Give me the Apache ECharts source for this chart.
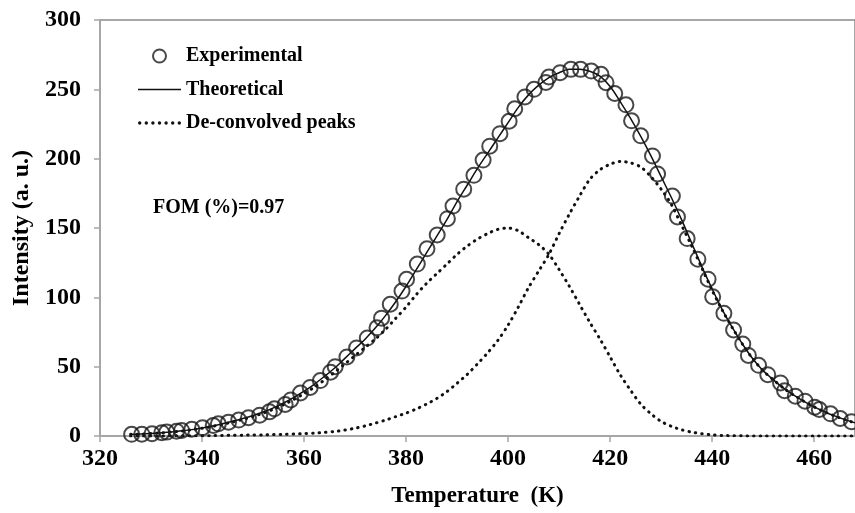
<!DOCTYPE html>
<html><head><meta charset="utf-8">
<script src="https://cdn.jsdelivr.net/npm/echarts@6/dist/echarts.min.js"></script>
<style>html,body{margin:0;padding:0;background:#fff}#c{width:855px;height:513px}</style>
</head><body><div id="c"></div>
<script>
// Experimental points (temperature K, intensity a.u.)
var expT = [326.2,328.2,330.2,332.1,333.1,335.0,336.0,338.0,340.1,342.2,343.2,345.2,347.2,349.1,351.3,353.2,354.2,356.3,357.4,359.3,361.2,363.2,365.2,366.1,368.4,370.3,372.4,374.3,375.2,376.9,379.2,380.1,382.2,384.1,386.1,388.1,389.2,391.3,393.3,395.1,396.4,398.4,400.2,401.3,403.3,405.1,407.4,408.0,410.2,412.3,414.2,416.3,418.2,419.2,420.9,423.1,424.2,426.0,428.3,429.3,432.2,433.2,435.1,437.2,439.2,440.1,442.3,444.2,446.0,447.1,449.1,450.9,453.4,454.2,456.3,458.2,460.1,461.0,463.2,465.1,467.3];
var expI = [1.2,1.3,1.7,2.4,2.8,3.5,4.0,4.8,6.0,7.6,8.8,10.0,11.5,13.2,15.0,17.4,19.6,22.7,26.0,31.0,35.0,40.0,46.0,50.0,57.0,63.5,70.6,78.0,85.0,95.0,104.5,113.0,124.0,135.0,145.0,156.7,165.8,178.0,188.0,199.0,209.0,218.0,227.0,236.0,244.5,250.0,255.0,258.9,262.0,264.4,264.4,263.2,260.8,254.8,247.0,238.8,227.3,216.5,202.0,189.0,173.0,158.0,142.4,127.5,113.1,100.5,88.5,76.5,66.3,58.1,51.0,44.2,38.3,32.7,28.7,25.1,20.8,19.1,16.0,12.6,10.3];

// Temperature grid for the fitted curves
var fitT = [326,328,330,332,334,336,338,340,342,344,346,348,350,352,354,356,358,360,362,364,366,368,370,372,374,376,378,380,382,384,386,388,390,392,394,396,398,400,402,404,406,408,410,412,414,416,418,420,422,424,426,428,430,432,434,436,438,440,442,444,446,448,450,452,454,456,458,460,462,464,466,468];
var theoretical = [1.2,1.4,1.8,2.3,2.9,3.7,4.6,5.8,7.2,8.8,10.6,12.6,14.8,17.3,20.3,23.8,27.8,32.3,37.3,43,49,56,63,70,78,87,97,108,120,132,144,156,169,181,193,204,215,226,237,246,253,258.5,262,264.5,264.5,263,259.5,252,241,229,216,202,187,172,156,139,122,106,91,78,66,55.5,47,40.5,34.5,29.5,25,21,17.5,14.5,11.8,9.5];
var peak1 = [1.2,1.4,1.8,2.3,2.9,3.6,4.5,5.6,6.9,8.4,10.1,12.0,14.1,16.5,19.3,22.6,26.4,30.6,35.2,40.4,46,52,58,64,70,77,85,93,102,110,117,124,131,137,142,146,149,150,148,143,138,131,120,108,95,82,70,57,44,33,23,16,10.5,7,4.5,2.8,1.6,0.8,0.4,0.2,0.1,0,0,0,0,0,0,0,0,0,0,0];
var peak2 = [0,0,0,0,0.1,0.1,0.1,0.2,0.3,0.4,0.5,0.6,0.7,0.8,1.0,1.2,1.4,1.7,2.1,2.6,3.3,4.3,5.6,7.3,9.3,11.5,14,16.5,19.5,23,27,32,38,44.5,52,60,69,80,93,107,119,131,146,160,173,185,192,196,198,197,194,187,178,167,152,137,121,105,90.6,77.8,65.9,55.5,47,40.5,34.5,29.5,25,21,17.5,14.5,11.8,9.5];

var xTicks = {min: 320, max: 468, interval: 20};
var yTicks = {min: 0, max: 300, interval: 50};

function pairs(xs, ys) { return xs.map(function (x, i) { return [x, ys[i]]; }); }

// legend icons (style only)
var solidIcon = 'path://M0,0H43V1.6H0Z';
var dotIcon = 'path://';
for (var k = 0; k < 7; k++) {
  var cx = 1.7 + k * 6.6;
  dotIcon += 'M' + (cx - 1.7).toFixed(2) + ',1.7a1.7,1.7 0 1,0 3.4,0a1.7,1.7 0 1,0 -3.4,0Z';
}

var FONT = "'Liberation Serif','Times New Roman',serif";
var chart = echarts.init(document.getElementById('c'), null, {renderer: 'canvas'});
var dotted = {color: '#111', width: 3, type: [0.5, 6], cap: 'round'};

chart.setOption({
  animation: false,
  backgroundColor: '#fff',
  grid: {left: 100, right: -4, top: 20, bottom: 75, show: true, borderColor: '#8a8a8a', borderWidth: 1.5, backgroundColor: 'transparent'},
  title: {text: 'FOM (%)=0.97', left: 153, top: 198, padding: 0,
    textStyle: {fontFamily: FONT, fontWeight: 'bold', fontSize: 20, color: '#000'}},
  legend: {
    orient: 'vertical', left: 138, top: 46, padding: 0, itemGap: 13.5,
    itemWidth: 43, itemHeight: 13,
    data: [
      {name: 'Experimental'},
      {name: 'Theoretical', icon: solidIcon},
      {name: 'De-convolved peaks', icon: dotIcon}
    ],
    textStyle: {fontFamily: FONT, fontWeight: 'bold', fontSize: 20, color: '#000', lineHeight: 20}
  },
  xAxis: {
    type: 'value', min: xTicks.min, max: xTicks.max, interval: xTicks.interval,
    name: 'Temperature  (K)', nameLocation: 'middle', nameGap: 49,
    nameTextStyle: {fontFamily: FONT, fontWeight: 'bold', fontSize: 23, color: '#000'},
    axisLine: {onZero: false, lineStyle: {color: '#a6a6a6', width: 1.5}},
    axisTick: {show: true, length: 6, lineStyle: {color: '#a6a6a6', width: 1.5}},
    axisLabel: {fontFamily: FONT, fontWeight: 'bold', fontSize: 24, color: '#000', margin: 11, showMaxLabel: false},
    splitLine: {show: false}
  },
  yAxis: {
    type: 'value', min: yTicks.min, max: yTicks.max, interval: yTicks.interval,
    name: 'Intensity (a. u.)', nameLocation: 'middle', nameGap: 64, nameRotate: 90,
    nameTextStyle: {fontFamily: FONT, fontWeight: 'bold', fontSize: 24, color: '#000'},
    axisLine: {show: true, lineStyle: {color: '#a6a6a6', width: 1.5}},
    axisTick: {show: true, length: 6, lineStyle: {color: '#a6a6a6', width: 1.5}},
    axisLabel: {fontFamily: FONT, fontWeight: 'bold', fontSize: 24, color: '#000', margin: 19},
    splitLine: {show: false}
  },
  series: [
    {name: 'De-convolved peaks', type: 'line', symbol: 'none', smooth: 0.3, data: pairs(fitT, peak1),
      lineStyle: dotted, itemStyle: {color: '#111'}, z: 2},
    {name: 'De-convolved peaks', type: 'line', symbol: 'none', smooth: 0.3, data: pairs(fitT, peak2),
      lineStyle: dotted, itemStyle: {color: '#111'}, z: 2},
    {name: 'Theoretical', type: 'line', symbol: 'none', smooth: 0.3, data: pairs(fitT, theoretical),
      lineStyle: {color: '#111', width: 1.5}, itemStyle: {color: '#111'}, z: 3},
    {name: 'Experimental', type: 'scatter', symbol: 'circle', symbolSize: 15, data: pairs(expT, expI),
      itemStyle: {color: 'rgba(0,0,0,0)', borderColor: '#1a1a1a', borderWidth: 2}, z: 4}
  ]
});
</script></body></html>
